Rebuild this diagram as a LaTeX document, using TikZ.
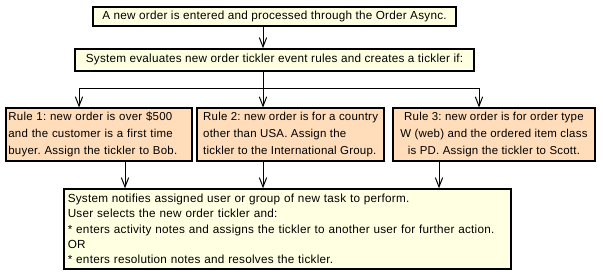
\documentclass[tikz,border=0pt]{standalone}
\usepackage{fontspec}
\setmainfont[LetterSpace=2]{Liberation Sans}
\usetikzlibrary{arrows.meta,positioning}
\frenchspacing
\definecolor{ink}{HTML}{000000}
\definecolor{memo}{HTML}{FFFFE1}
\definecolor{peach}{HTML}{FFDDBA}
\tikzset{
  basebox/.style={draw=ink,line width=1.5pt,fill=memo,text=ink,inner sep=3pt,font=\fontsize{8.8}{11.5}\selectfont},
  stepbox/.style={basebox,align=center},
  rulebox/.style={basebox,fill=peach,minimum height=38.6pt,inner xsep=2pt,font=\fontsize{8.6}{12.5}\selectfont},
  arrow/.style={-{Straight Barb[length=7pt,width=5.5pt]},line width=0.75pt,draw=ink},
  bus/.style={line width=0.75pt,draw=ink}
}
\begin{document}
\begin{tikzpicture}[x=0.75pt,y=-0.75pt]
  \useasboundingbox (0,0) rectangle (603,276);
  \node[stepbox,minimum width=272.6pt,minimum height=14.6pt] (entry) at (274.5,16.5) {A new order is entered and processed through the Order Async.};
  \node[stepbox,minimum width=299.6pt,minimum height=16pt,below=15.75pt of entry] (evaluate) {System evaluates new order tickler event rules and creates a tickler if:};
  \node[rulebox,text width=135.9pt,align=left] (rule1) at (99,134.5) {Rule 1: new order is over \$500\\and the customer is a first time\\buyer. Assign the tickler to Bob.};
  \node[rulebox,minimum width=140pt,align=left,right=2.25pt of rule1] (rule2) {Rule 2: new order is for a country\\other than USA. Assign the\\tickler to the International Group.};
  \node[rulebox,minimum width=152pt,align=center,right=5pt of rule2] (rule3) {Rule 3: new order is for order type\\W (web) and the ordered item class\\is PD. Assign the tickler to Scott.};
  \node[basebox,text width=329.6pt,minimum height=59.6pt,align=left] (notify) at (287.5,229) {System notifies assigned user or group of new task to perform.\\User selects the new order tickler and:\\{*} enters activity notes and assigns the tickler to another user for further action.\\OR\\{*} enters resolution notes and resolves the tickler.};
  % branch points
  \coordinate (mid) at (263,88);
  \coordinate (busL) at (79,88);
  \coordinate (busR) at (479,88);
  \coordinate (out1) at (125,0);
  \coordinate (out3) at (439,0);
  \draw[arrow] (entry.south -| mid) -- (evaluate.north -| mid);
  \draw[bus] (evaluate.south -| mid) -- (mid);
  \draw[bus] (busL) -- (busR);
  \draw[arrow] (busL) -- (busL |- rule1.north);
  \draw[arrow] (mid) -- (mid |- rule2.north);
  \draw[arrow] (busR) -- (busR |- rule3.north);
  \draw[arrow] (rule1.south -| out1) -- (notify.north -| out1);
  \draw[arrow] (rule2.south -| mid) -- (notify.north -| mid);
  \draw[arrow] (rule3.south -| out3) -- (notify.north -| out3);
\end{tikzpicture}
\end{document}
